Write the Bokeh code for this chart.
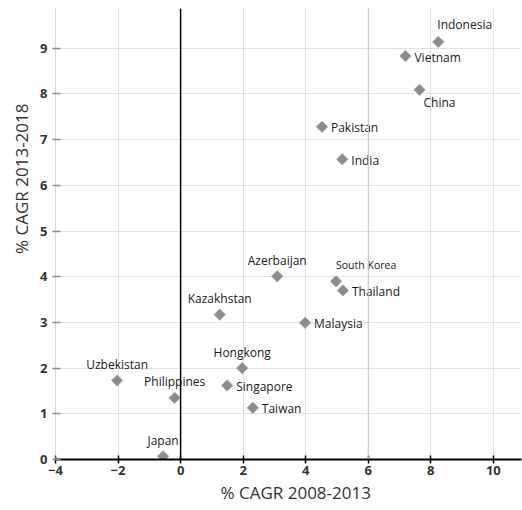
from bokeh.plotting import figure
from bokeh.models import ColumnDataSource, Span, Title, FixedTicker, Range1d
from bokeh.embed import file_html
from bokeh.resources import INLINE
from bokeh.core.properties import value
import math

# ---- data ----
countries = ["Indonesia", "Vietnam", "China", "Pakistan", "India", "Azerbaijan",
             "South Korea", "Thailand", "Kazakhstan", "Malaysia", "Hongkong",
             "Singapore", "Taiwan", "Philippines", "Uzbekistan", "Japan"]
cagr_2008_2013 = [8.24, 7.19, 7.64, 4.52, 5.17, 3.09,
                  4.97, 5.19, 1.25, 3.98, 1.97,
                  1.49, 2.31, -0.19, -2.03, -0.56]
cagr_2013_2018 = [9.14, 8.83, 8.09, 7.28, 6.57, 4.01,
                  3.90, 3.70, 3.17, 2.99, 2.00,
                  1.62, 1.13, 1.35, 1.73, 0.07]
x_ticks = [-4, -2, 0, 2, 4, 6, 8, 10]
y_ticks = [0, 1, 2, 3, 4, 5, 6, 7, 8, 9]
x_title = "% CAGR 2008-2013"
y_title = "% CAGR 2013-2018"

# ---- label placement (style) ----
label_anchor = ["above_start", "right", "below_start", "right", "right", "above",
                "above_start_small", "right", "above", "right", "above",
                "right", "right", "above", "above", "above"]
anchor_style = {
    "above":             (0, -16, "center", "middle", "12px"),
    "above_start":       (-1, -17, "left", "middle", "12px"),
    "above_start_small": (0, -16, "left", "middle", "10.5px"),
    "right":             (9, 1, "left", "middle", "12px"),
    "below_start":       (4, 13, "left", "middle", "12px"),
}

src = ColumnDataSource(dict(
    x=cagr_2008_2013, y=cagr_2013_2018, name=countries,
    xo=[anchor_style[a][0] for a in label_anchor],
    yo=[anchor_style[a][1] for a in label_anchor],
    al=[anchor_style[a][2] for a in label_anchor],
    bl=[anchor_style[a][3] for a in label_anchor],
    fs=[anchor_style[a][4] for a in label_anchor],
))

FONT = "Open Sans"

p = figure(width=522, height=510, output_backend="svg", toolbar_location=None,
           x_range=Range1d(-4, 10.9), y_range=Range1d(0, 9.87),
           min_border_left=55, min_border_right=1, min_border_top=8,
           min_border_bottom=51)
p.outline_line_color = None
p.background_fill_color = "white"

# grid
for g in (p.xgrid, p.ygrid):
    g.grid_line_color = "#c4c4c4"
    g.grid_line_dash = "1 1"
    g.grid_line_width = 1
p.xgrid.ticker = FixedTicker(ticks=x_ticks)
p.ygrid.ticker = FixedTicker(ticks=y_ticks)

# x axis
xa = p.xaxis[0]
xa.ticker = FixedTicker(ticks=x_ticks)
xa.axis_line_color = "black"
xa.axis_line_width = 2
xa.major_tick_line_color = "black"
xa.major_tick_line_width = 1.5
xa.major_tick_in = 4
xa.major_tick_out = 4
xa.minor_tick_line_color = None
xa.major_label_text_font = FONT
xa.major_label_text_font_size = "13px"
xa.major_label_text_font_style = "bold"
xa.major_label_text_color = "#333333"
xa.major_label_standoff = 2

# y axis
ya = p.yaxis[0]
ya.ticker = FixedTicker(ticks=y_ticks)
ya.axis_line_color = "#b0b0b0"
ya.axis_line_dash = "1 1"
ya.major_tick_line_color = "#8a8a8a"
ya.major_tick_line_width = 1.5
ya.major_tick_in = 5
ya.major_tick_out = 3
ya.minor_tick_line_color = None
ya.major_label_text_font = FONT
ya.major_label_text_font_size = "13px"
ya.major_label_text_font_style = "bold"
ya.major_label_text_color = "#333333"
ya.major_label_standoff = 5

# solid light line at x=6 and black zero line
p.add_layout(Span(location=6, dimension="height", line_color="#c8c8c8", line_width=1))
p.add_layout(Span(location=0, dimension="height", line_color="black", line_width=1.5))

# points
p.scatter("x", "y", source=src, marker="square", size=8, angle=math.pi / 4,
          fill_color="#8c8c8c", line_color="#a8a8a8", line_width=1)

# labels
p.text("x", "y", text="name", source=src, x_offset="xo", y_offset="yo",
       text_align="al", text_baseline="bl", text_font_size="fs",
       text_font=value(FONT), text_color="#1a1a1a")

# axis titles
p.add_layout(Title(text=x_title, align="left", offset=165, standoff=3,
                   text_font=FONT, text_font_size="17px", text_font_style="normal",
                   text_color="#333333"), "below")
p.add_layout(Title(text=y_title, align="right", offset=95, standoff=10,
                   text_font=FONT, text_font_size="17px", text_font_style="normal",
                   text_color="#333333"), "left")

open("out.html", "w").write(file_html(p, INLINE))
